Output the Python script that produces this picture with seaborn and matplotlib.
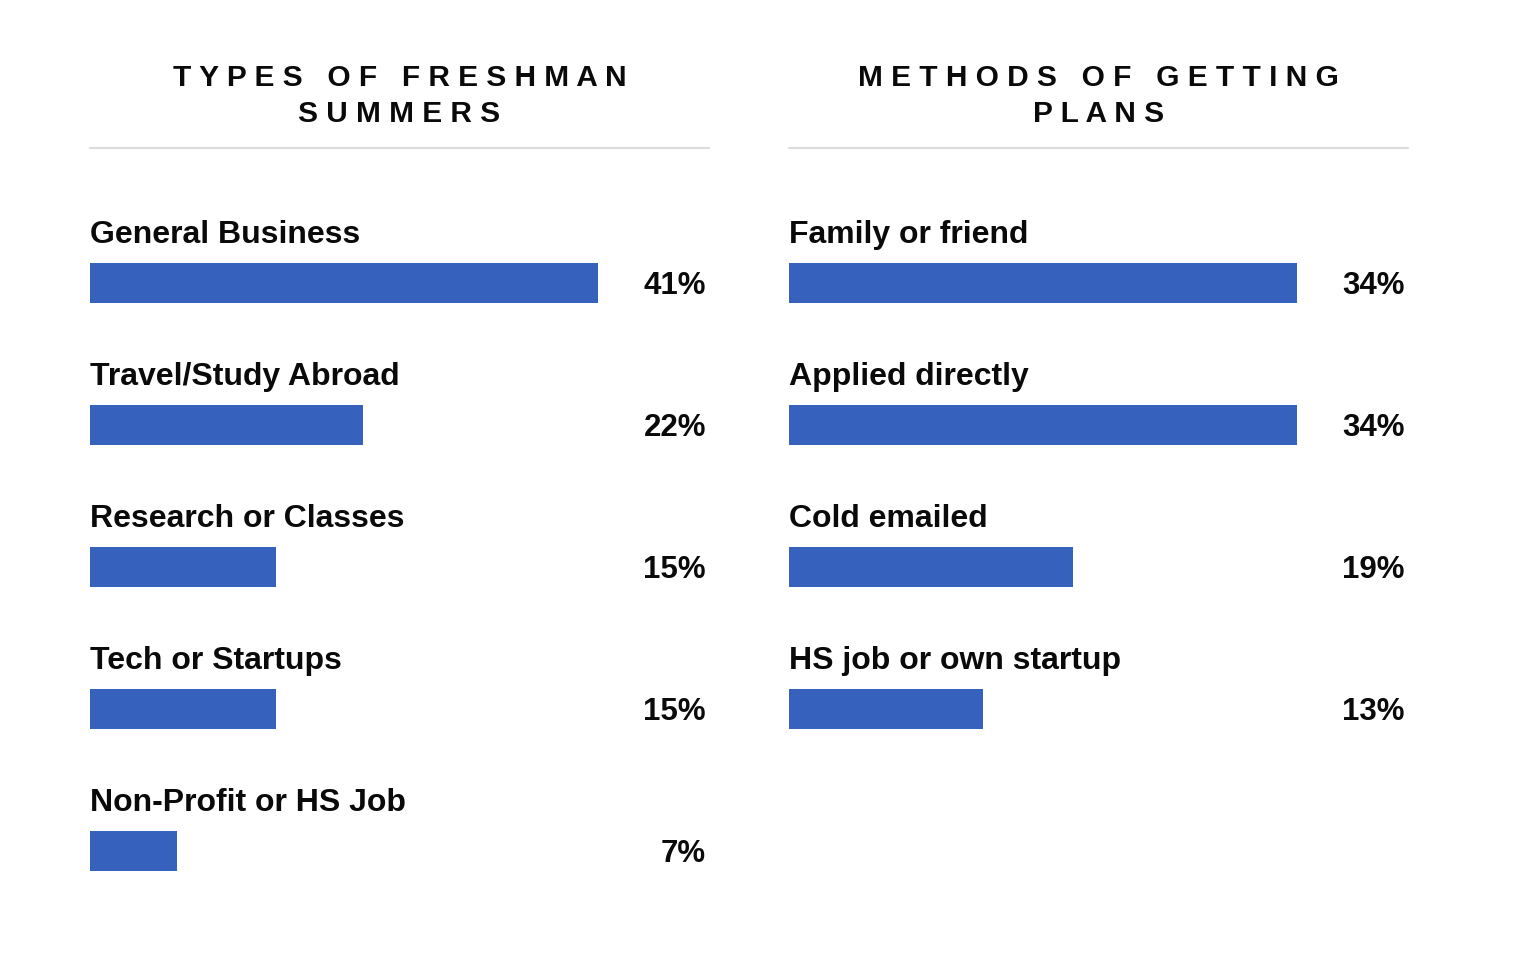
import matplotlib
matplotlib.use('Agg')
import matplotlib.pyplot as plt
import matplotlib.transforms as mtransforms
from matplotlib.lines import Line2D
import seaborn as sns
import pandas as pd

# data
left_title = ['TYPES OF FRESHMAN', 'SUMMERS']
left_cats = ['General Business', 'Travel/Study Abroad', 'Research or Classes',
             'Tech or Startups', 'Non-Profit or HS Job']
left_vals = [41, 22, 15, 15, 7]

right_title = ['METHODS OF GETTING', 'PLANS']
right_cats = ['Family or friend', 'Applied directly', 'Cold emailed',
              'HS job or own startup']
right_vals = [34, 34, 19, 13]

BAR_COLOR = '#3662bd'
TXT = '#0a0a0a'

sns.set_theme(style='white')
plt.rcParams['font.family'] = ['Liberation Sans', 'DejaVu Sans']

W, H = 1516, 972
fig = plt.figure(figsize=(W / 100, H / 100), dpi=100)


def spaced(s):
    # crude letter spacing: a space between letters, wider gap between words
    return '   '.join(' '.join(w) for w in s.split(' '))


def panel(x0, cats, vals, title):
    ax_w = 619
    top, bot = 160, 920
    ax = fig.add_axes([x0 / W, 1 - bot / H, ax_w / W, (bot - top) / H])
    df = pd.DataFrame({'cat': cats, 'val': vals})
    sns.barplot(data=df, x='val', y='cat', orient='h', color=BAR_COLOR,
                saturation=1, width=40 / 142, linewidth=0, ax=ax)
    ax.set_xlim(0, max(vals) * ax_w / 508)
    ax.set_ylim((bot - 283) / 142, (top - 283) / 142)
    ax.set_axis_off()

    trans = mtransforms.blended_transform_factory(ax.transAxes, ax.transData)
    for i, (c, v) in enumerate(zip(cats, vals)):
        ax.text(0.0, i - 48 / 142, c, transform=trans, ha='left', va='center',
                fontsize=23, fontweight='bold', color=TXT)
        ax.text(0.995, i + 3 / 142, f'{v}%', transform=trans, ha='right',
                va='center', fontsize=22.5, fontweight='bold', color=TXT)

    cx = (x0 + ax_w / 2) / W
    for line, ypx in zip(title, [78, 114]):
        fig.text(cx, 1 - ypx / H, spaced(line), ha='center', va='center',
                 fontsize=21.5, fontweight='bold', color=TXT)
    fig.add_artist(Line2D([x0 / W, (x0 + ax_w) / W], [1 - 148 / H, 1 - 148 / H],
                          transform=fig.transFigure, color='#dcdcdc', lw=1.5))
    return ax


panel(90, left_cats, left_vals, left_title)
panel(789, right_cats, right_vals, right_title)

fig.savefig('out.png', dpi=100, facecolor='white')
